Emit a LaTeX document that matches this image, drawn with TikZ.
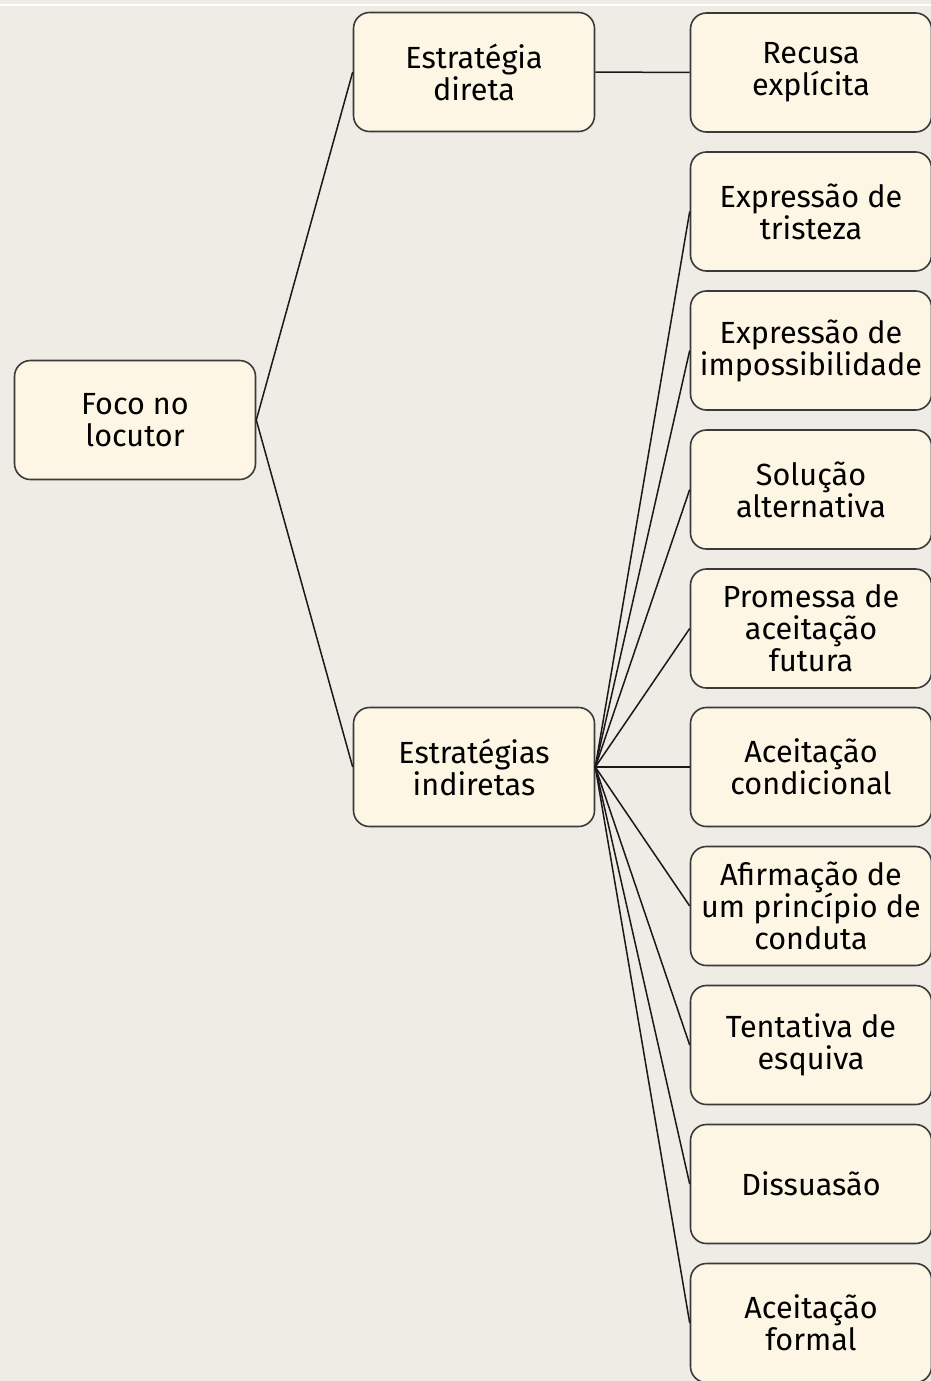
\documentclass[tikz,border=0pt]{standalone}
\usepackage{fontspec}
\setmainfont{Fira Sans}
\definecolor{pagebg}{HTML}{EEECE5}
\definecolor{boxfill}{HTML}{FDF6E5}
\definecolor{boxline}{HTML}{3A3A3A}
\tikzset{
	estrbox/.style={draw=boxline, fill=boxfill, line width=0.8pt, rounded corners=8pt,
		minimum width=120.5pt, minimum height=59.5pt, align=center,
		font=\fontsize{15.3}{16}\selectfont, inner sep=1pt},
	ramo/.style={draw=black!90, line width=0.75pt}
}
\begin{document}
\begin{tikzpicture}[x=0.5pt, y=-0.5pt]
	\useasboundingbox (0,0) rectangle (931,1381);
	\clip (0,0) rectangle (931,1381);
	\fill[pagebg] (0,0) rectangle (931,1381);
	\draw[white, line width=1pt] (0,4.5) -- (931,4.5);
	% left and middle columns
	\node[estrbox] (foco) at (135,420) {Foco no\\locutor};
	\node[estrbox] (direta) at (474,72) {Estratégia\\direta};
	\node[estrbox] (indiretas) at (474,767) {Estratégias\\indiretas};
	% right column
	\node[estrbox] (recusa) at (811,72.5) {Recusa\\explícita};
	\node[estrbox] (tristeza) at (811,211.5) {Expressão de\\tristeza};
	\node[estrbox] (impossib) at (811,350.5) {Expressão de\\impossibilidade};
	\node[estrbox] (solucao) at (811,489.5) {Solução\\alternativa};
	\node[estrbox] (promessa) at (811,628.5) {Promessa de\\aceitação\\futura};
	\node[estrbox] (condic) at (811,767) {Aceitação\\condicional};
	\node[estrbox] (principio) at (811,906) {Afirmação de\\um princípio de\\conduta};
	\node[estrbox] (esquiva) at (811,1045) {Tentativa de\\esquiva};
	\node[estrbox] (dissuasao) at (811,1184) {Dissuasão};
	\node[estrbox] (formal) at (811,1323) {Aceitação\\formal};
	\draw[ramo] (foco.east) -- (direta.west);
	\draw[ramo] (foco.east) -- (indiretas.west);
	\draw[ramo] (direta.east) -- (recusa.west);
	\foreach \f in {tristeza,impossib,solucao,promessa,condic,principio,esquiva,dissuasao,formal}
		\draw[ramo] (indiretas.east) -- (\f.west);
\end{tikzpicture}
\end{document}
